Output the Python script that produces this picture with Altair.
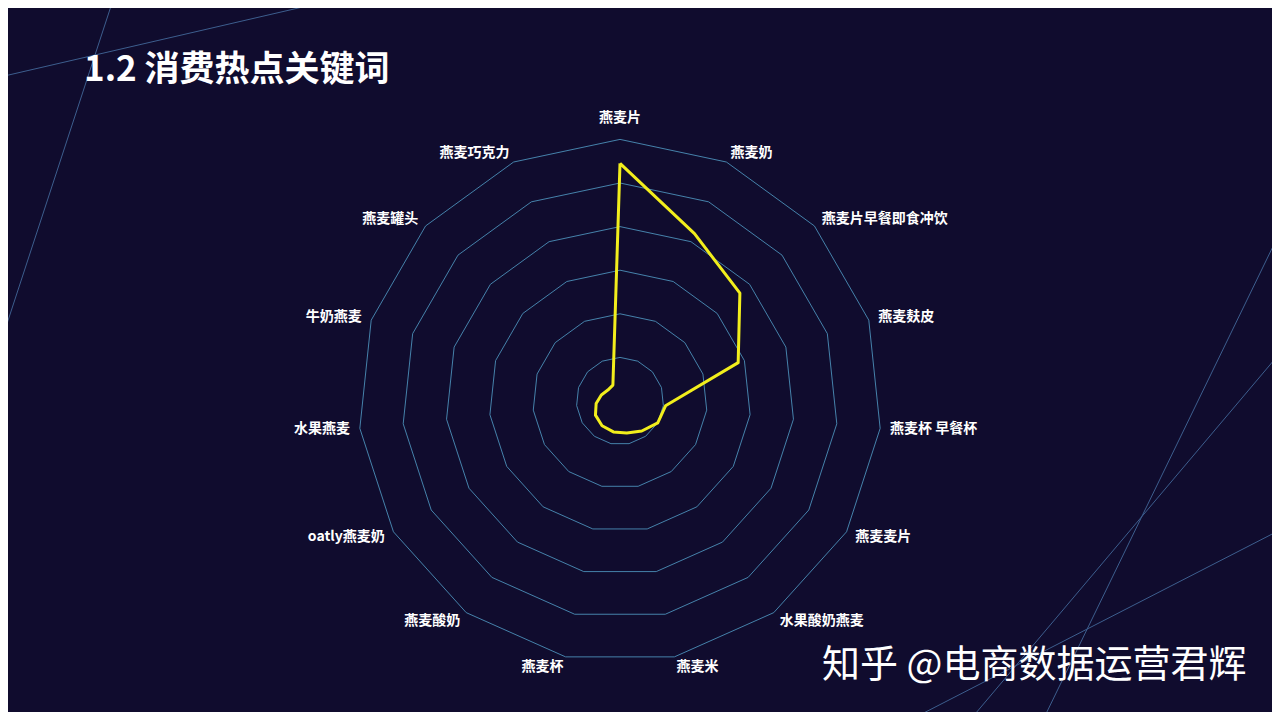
import altair as alt
import pandas as pd

# ---------------- data ----------------
categories = ["燕麦片", "燕麦奶", "燕麦片早餐即食冲饮", "燕麦麸皮", "燕麦杯 早餐杯",
              "燕麦麦片", "水果酸奶燕麦", "燕麦米", "燕麦杯", "燕麦酸奶",
              "oatly燕麦奶", "水果燕麦", "牛奶燕麦", "燕麦罐头", "燕麦巧克力"]
values = [109, 84, 74, 57, 21, 20, 17, 15, 14.5, 14, 13, 11, 9, 7.5, 8]
ring_levels = [20, 40, 60, 80, 100, 120]
title_text = "1.2 消费热点关键词"
watermark_text = "知乎 @电商数据运营君辉"

# ---------------- layout ----------------
N = len(categories)
MAX = ring_levels[-1]
W, H = 1264, 704
CX, CY = 612, 393          # radar centre inside the chart
R_PX = 261.6               # outer ring radius in px
K = R_PX / MAX
LABEL_R = MAX + 10 / K

xdom = [-CX / K, (W - CX) / K]
ydom = [-(H - CY) / K, CY / K]

BG = "#100c2e"
RING = "#4b8fb8"
YELLOW = "#f2ee1c"
DECO = "#3d5e8e"
FONT = "Noto Sans CJK SC"

series = pd.DataFrame({
    "idx": list(range(N)) + [N],
    "category": categories + [categories[0]],
    "value": values + [values[0]],
})
rings = pd.DataFrame([{"level": lv, "idx": i} for lv in ring_levels for i in range(N + 1)])
labels = pd.DataFrame({"idx": list(range(N)), "category": categories})

ANG = f"2*PI*datum.idx/{N}"
X = alt.X("x:Q", scale=alt.Scale(domain=xdom, nice=False, zero=False), axis=None)
Y = alt.Y("y:Q", scale=alt.Scale(domain=ydom, nice=False, zero=False), axis=None)

ring_layer = alt.Chart(rings).transform_calculate(
    x=f"datum.level*sin({ANG})", y=f"datum.level*cos({ANG})"
).mark_line(color=RING, strokeWidth=1, opacity=0.9).encode(
    x=X, y=Y, detail="level:N", order="idx:Q"
)

data_layer = alt.Chart(series).transform_calculate(
    x=f"datum.value*sin({ANG})", y=f"datum.value*cos({ANG})"
).mark_line(color=YELLOW, strokeWidth=3, strokeJoin="round").encode(
    x=X, y=Y, order="idx:Q"
)

label_base = alt.Chart(labels).transform_calculate(
    x=f"{LABEL_R}*sin({ANG})", y=f"{LABEL_R}*cos({ANG})", s=f"sin({ANG})"
)
lab_right_side = label_base.transform_filter("datum.s > 0.01").mark_text(
    align="left", baseline="middle", font=FONT, fontSize=14, fontWeight="bold", color="white"
).encode(x=X, y=Y, text="category:N")
lab_left_side = label_base.transform_filter("datum.s < -0.01").mark_text(
    align="right", baseline="middle", font=FONT, fontSize=14, fontWeight="bold", color="white"
).encode(x=X, y=Y, text="category:N")
lab_center = label_base.transform_filter("abs(datum.s) <= 0.01").mark_text(
    align="center", baseline="bottom", dy=-4, font=FONT, fontSize=14, fontWeight="bold", color="white"
).encode(x=X, y=Y, text="category:N")


def deco(x1, y1, x2, y2):
    return alt.Chart(alt.Data(values=[{}])).mark_rule(color=DECO, strokeWidth=1).encode(
        x=alt.value(x1), y=alt.value(y1), x2=alt.value(x2), y2=alt.value(y2)
    )


decos = [
    deco(-8, 69, 325, -8),
    deco(105, -8, -8, 337),
    deco(1035, 712, 1272, 224),
    deco(962, 712, 1272, 345),
    deco(902, 712, 1272, 522),
]

title_layer = alt.Chart(alt.Data(values=[{"t": title_text}])).mark_text(
    align="left", baseline="middle", font=FONT, fontSize=35, fontWeight="bold", color="white"
).encode(x=alt.value(76), y=alt.value(62), text="t:N")

wm_layer = alt.Chart(alt.Data(values=[{"t": watermark_text}])).mark_text(
    align="left", baseline="middle", font=FONT, fontSize=38, fontWeight="normal", color="white"
).encode(x=alt.value(814), y=alt.value(658), text="t:N")

chart = alt.layer(
    *decos, ring_layer, data_layer, lab_right_side, lab_left_side, lab_center,
    title_layer, wm_layer
).properties(
    width=W, height=H, padding=0, autosize=alt.AutoSizeParams(type="none"),
    background=BG
).configure_view(stroke=None)

chart.save("out.html", embed_options={"renderer": "svg", "actions": False})
